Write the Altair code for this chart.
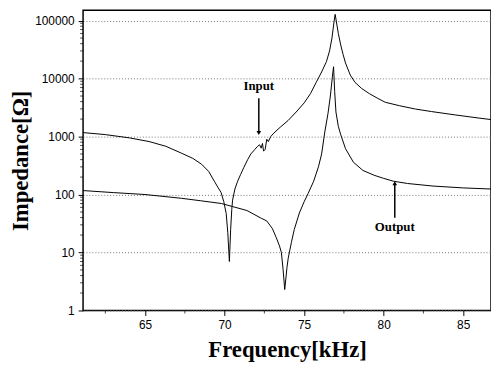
import altair as alt
import pandas as pd

# Input curve (frequency kHz, impedance Ohm)
input_freq = [61.1, 62.5, 64.0, 65.25, 66.3, 67.3, 68.0, 68.54, 69.0, 69.35, 69.6, 69.78, 69.95,
              70.1, 70.2, 70.3, 70.38, 70.45, 70.5, 70.65, 70.82, 71.0, 71.2, 71.45, 71.65, 71.9,
              72.08, 72.2, 72.3, 72.38, 72.45, 72.55, 72.65, 72.75, 72.9, 73.1, 73.5, 74.0, 74.5,
              75.0, 75.4, 75.75, 76.1, 76.4, 76.6, 76.75, 76.88, 76.95, 77.03, 77.15, 77.3, 77.45,
              77.6, 77.9, 78.2, 78.6, 79.1, 79.6, 80.1, 81.0, 82.0, 83.0, 84.5, 86.0, 86.9]
input_z = [1170, 1080, 950, 820, 680, 515, 420, 335, 250, 170, 130, 108, 75,
           47, 22, 7, 25, 55, 80, 125, 170, 220, 290, 400, 500, 600,
           680, 720, 630, 760, 560, 600, 900, 820, 1000, 1150, 1450, 1900, 2650,
           3800, 5500, 8500, 13000, 19500, 30000, 50000, 95000, 128000, 95000, 60000, 38000, 26000,
           18600, 11500, 8600, 6800, 5500, 4600, 3900, 3400, 2980, 2700, 2360, 2080, 1940]

# Output curve
output_freq = [61.1, 63.0, 65.0, 67.3, 68.5, 69.8, 70.5, 71.4, 72.3, 72.65, 73.0, 73.25, 73.45,
               73.57, 73.68, 73.78, 73.85, 73.92, 74.0, 74.2, 74.38, 74.7, 75.0, 75.25, 75.6,
               75.9, 76.1, 76.3, 76.5, 76.65, 76.78, 76.85, 76.92, 77.0, 77.15, 77.3, 77.6,
               78.1, 78.7, 79.4, 80.0, 80.6, 81.5, 83.1, 85.0, 86.9]
output_z = [117, 108, 100, 86, 78, 70, 62, 53, 39, 35, 26, 18, 13,
            10, 5, 2.3, 3.5, 5.5, 8, 15, 25, 48, 75, 104, 170,
            300, 500, 1200, 2500, 5000, 11000, 16000, 6000, 2650, 1500, 1080, 620,
            360, 260, 215, 190, 170, 155, 140, 130, 124]

# Axis ticks
y_major = [1, 10, 100, 1000, 10000, 100000]
y_minor = [k * 10 ** e for e in range(0, 5) for k in range(2, 10)] + [200000]
x_major = [65, 70, 75, 80, 85]
x_minor = [62.5, 67.5, 72.5, 77.5, 82.5]

# Annotations
label_text = ["Input", "Output"]
label_f = [72.15, 80.7]
label_z = [7300, 27.9]
arrow_f = [72.15, 80.7]
arrow_from = [4560, 39.6]
arrow_to = [1155, 156]
arrow_shape = ["triangle-down", "triangle-up"]

X_DOMAIN = [61.1, 86.75]
Y_DOMAIN = [1, 151000]

W, H = 413, 304

df_in = pd.DataFrame({"f": input_freq, "z": input_z})
df_out = pd.DataFrame({"f": output_freq, "z": output_z})
df_ymin = pd.DataFrame({"z": [v for v in y_minor if v <= Y_DOMAIN[1]]})
df_xmin = pd.DataFrame({"f": x_minor})
df_lab = pd.DataFrame({"f": label_f, "z": label_z, "t": label_text})
df_arr = pd.DataFrame({"f": arrow_f, "z": arrow_from, "z2": arrow_to, "s": arrow_shape})

xscale = alt.Scale(domain=X_DOMAIN, nice=False, zero=False)
yscale = alt.Scale(type="log", domain=Y_DOMAIN, nice=False)

xaxis = alt.Axis(values=x_major, title="Frequency[kHz]", grid=False, tickSize=5,
                 labelPadding=4, titlePadding=9, domain=False)
yaxis = alt.Axis(values=y_major, format="d", title="Impedance[Ω]", grid=True,
                 gridDash=[1, 2], gridColor="#777777", gridWidth=1, tickSize=5,
                 labelPadding=4, titlePadding=2, domain=False)

X = alt.X("f:Q", scale=xscale, axis=xaxis)
Y = alt.Y("z:Q", scale=yscale, axis=yaxis)

line_in = alt.Chart(df_in).mark_line(color="black", strokeWidth=1, clip=True).encode(x=X, y=Y)
line_out = alt.Chart(df_out).mark_line(color="black", strokeWidth=1, clip=True).encode(x=X, y=Y)

yminor = alt.Chart(df_ymin).mark_tick(color="black", size=3, thickness=1).encode(
    y=Y, x=alt.value(-1.5))
xminor = alt.Chart(df_xmin).mark_tick(color="black", size=3, thickness=1).encode(
    x=X, y=alt.value(H + 1.5))

labels = alt.Chart(df_lab).mark_text(font="Liberation Serif", fontWeight="bold", fontSize=13,
                                     color="black").encode(x=X, y=Y, text="t:N")
arrows = alt.Chart(df_arr).mark_rule(color="black", strokeWidth=1.5).encode(
    x=X, y=Y, y2="z2:Q")
heads = alt.Chart(df_arr).mark_point(filled=True, color="black", size=22, opacity=1).encode(
    x=X, y=alt.Y("z2:Q", scale=yscale, axis=yaxis),
    shape=alt.Shape("s:N", scale=None))

chart = alt.layer(line_in, line_out, yminor, xminor, arrows, heads, labels).properties(
    width=W, height=H,
    autosize=alt.AutoSizeParams(type="none"),
    padding={"left": 76, "top": 0, "right": 0, "bottom": 56},
    background="white",
).configure_view(stroke="black", strokeWidth=1.5).configure_axis(
    labelFont="Liberation Sans", labelFontSize=12, labelColor="black",
    tickColor="black", titleFont="Liberation Serif", titleFontWeight="bold",
    titleFontSize=23, titleColor="black",
)

chart.save("out.html", embed_options={"renderer": "svg", "actions": False})
